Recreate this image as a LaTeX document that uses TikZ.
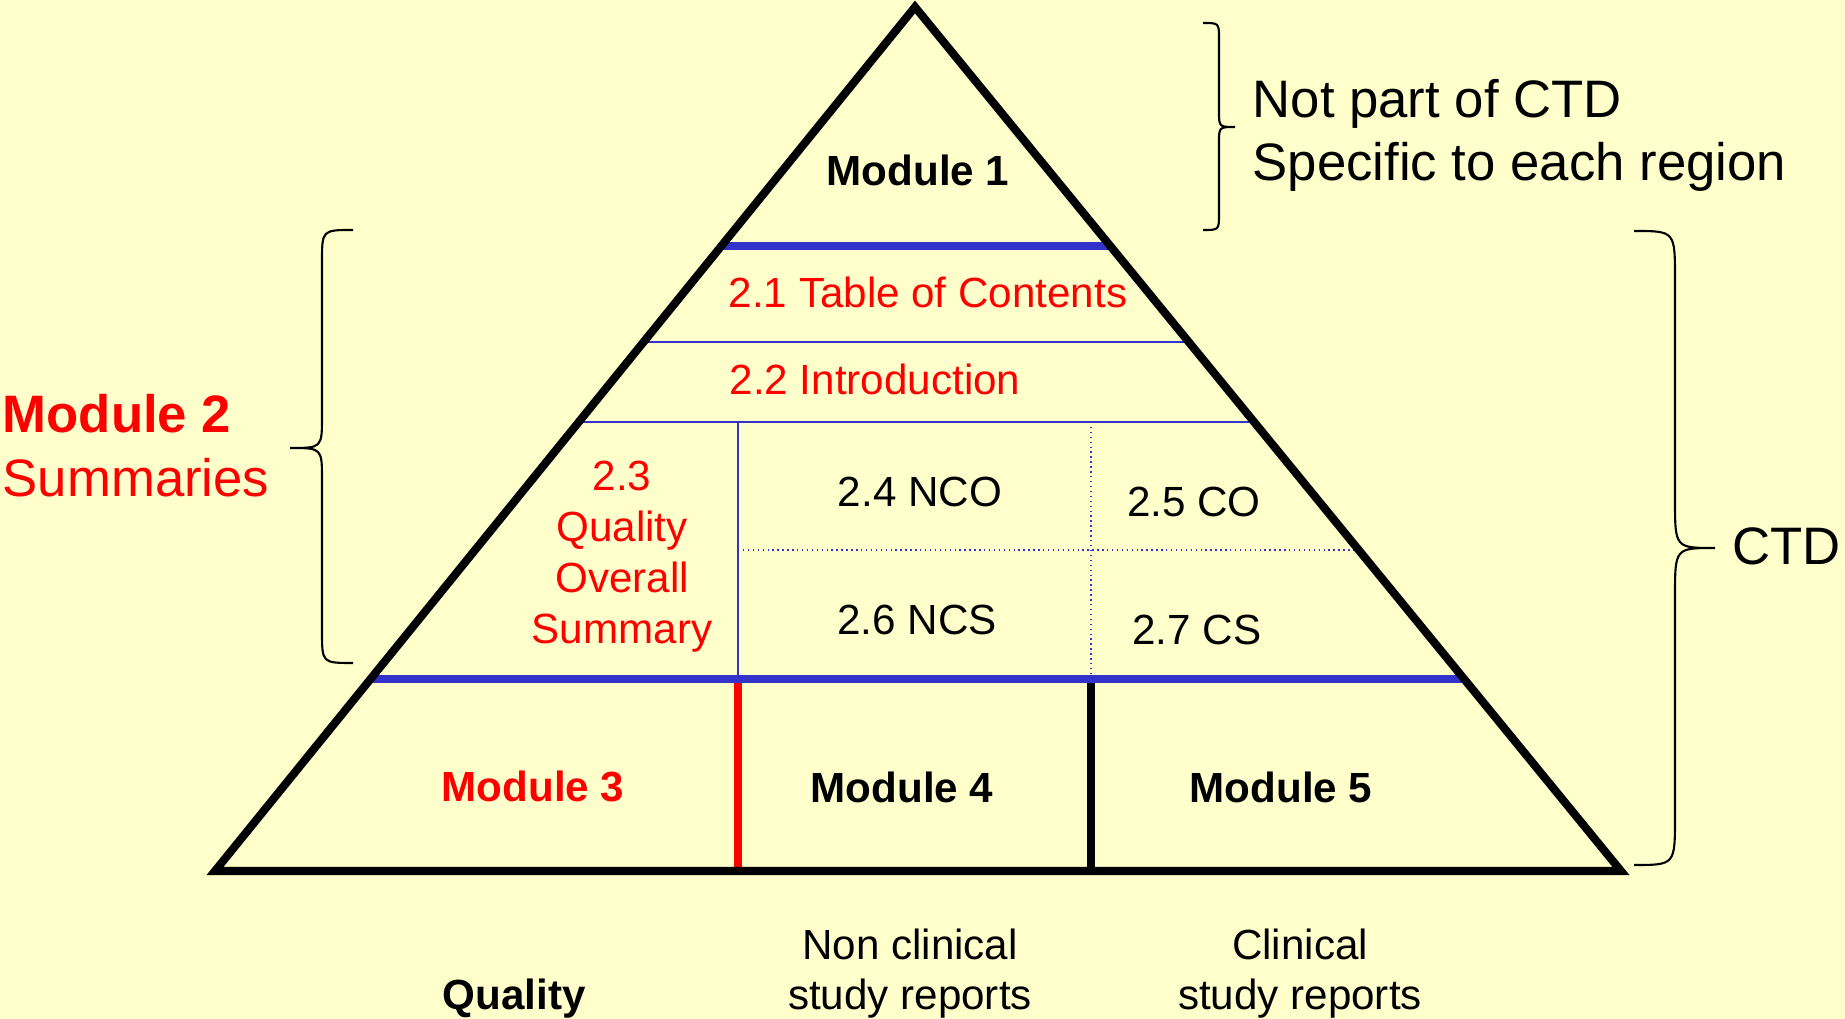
\documentclass[tikz,border=0pt]{standalone}
\usepackage{fontspec}
\setmainfont{Liberation Sans}
\usetikzlibrary{calc}
\definecolor{bgyellow}{HTML}{FFFFCC}
\definecolor{ctdblue}{HTML}{3333CC}
\definecolor{ctdred}{HTML}{FF0000}
\tikzset{
  txt/.style={inner sep=0pt,font=\fontsize{12}{14.5}\selectfont},
  modtxt/.style={inner sep=0pt,font=\fontsize{12}{14.5}\selectfont\bfseries},
  bigtxt/.style={inner sep=0pt,align=left},
  thinblue/.style={ctdblue,line width=.6pt},
  thickblue/.style={ctdblue,line width=2.3pt},
  dotblue/.style={ctdblue,line width=.4pt,densely dotted},
  wall/.style={line width=2.2pt},
  bracel/.style={line width=.6pt}
}

\begin{document}
\begin{tikzpicture}[x=.1mm,y=-.1mm]
\useasboundingbox (0,0) rectangle (1845,1019);
\fill[bgyellow] (0,0) rectangle (1845,1019);
\coordinate (top) at (915,7);
\coordinate (bl) at (215,871);
\coordinate (br) at (1621,871);
\coordinate (v1) at (738,871);
\coordinate (v2) at (1091,871);
% cut points on the two sides
\foreach \n/\t in {a/.2766,b/.3877,c/.4803,d/.6285,e/.7778} {
  \coordinate (l\n) at ($(top)!\t!(bl)$);
  \coordinate (r\n) at ($(top)!\t!(br)$);
}
% inner grid of module 2
\foreach \n in {b,c}
  \draw[thinblue] (l\n) -- (r\n);
\draw[thinblue] (v1 |- lc) -- (v1 |- le);
\draw[dotblue] (v2 |- lc) -- (v2 |- le);
\draw[dotblue] (v1 |- ld) -- (rd);
% module 3/4/5 walls
\draw[wall,ctdred] (v1 |- le) -- (v1);
\draw[wall] (v2 |- le) -- (v2);
\foreach \n in {a,e}
  \draw[thickblue] (l\n) -- (r\n);
\draw[line width=2.3pt] (bl) -- (top) -- (br) -- cycle;

\node[modtxt,anchor=base] (m1) at (918,186) {Module 1};
\node[txt,ctdred,anchor=base] (toc) at (928,308) {2.1 Table of Contents};
\node[txt,ctdred,anchor=base] (intro) at (875,395) {2.2 Introduction};
\node[txt,ctdred,align=center] (qos) at (622,557)
  {2.3\\Quality\\Overall\\Summary};
\foreach \nm/\x/\y/\s in {nco/920/507/2.4 NCO,co/1194/517/2.5 CO,
    ncs/917/635/2.6 NCS,cs/1197/645/2.7 CS}
  \node[txt,anchor=base] (\nm) at (\x,\y) {\s};
\node[modtxt,ctdred,anchor=base] (m3) at (533,802) {Module 3};
\foreach \n/\x in {4/902,5/1281}
  \node[modtxt,anchor=base] (m\n) at (\x,803) {Module \n};

% side labels
\node[bigtxt,ctdred,anchor=west,font=\fontsize{15}{18.2}\selectfont]
  (mod2) at (2,446) {\textbf{Module 2}\\Summaries};
\node[bigtxt,anchor=west,font=\fontsize{15}{17.9}\selectfont]
  (region) at (1252,135) {Not part of CTD\\Specific to each region};
\node[bigtxt,anchor=base west,font=\fontsize{15}{18}\selectfont]
  (ctd) at (1732,565) {CTD};

% braces
\draw[bracel] (1203,23) .. controls (1219,23) .. (1219,39) -- (1219,111)
  .. controls (1219,127) .. (1235,127) .. controls (1219,127) .. (1219,143)
  -- (1219,214) .. controls (1219,230) .. (1203,230);
\draw[bracel] (353,230) .. controls (322,230) .. (322,262) -- (322,416)
  .. controls (322,448) .. (290,448) .. controls (322,448) .. (322,480)
  -- (322,631) .. controls (322,663) .. (353,663);
\draw[bracel] (1634,231) .. controls (1675,231) .. (1675,279) -- (1675,500)
  .. controls (1675,548) .. (1715,548) .. controls (1675,548) .. (1675,596)
  -- (1675,817) .. controls (1675,865) .. (1634,865);

% what each module holds
\node[modtxt,anchor=base] (qual) at (514,1010) {Quality};
\node[txt,align=center,font=\fontsize{12}{14.2}\selectfont]
  (noncl) at (910,974) {Non clinical\\study reports};
\node[txt,align=center,font=\fontsize{12}{14.2}\selectfont]
  (clin) at (1300,974) {Clinical\\study reports};
\end{tikzpicture}
\end{document}
